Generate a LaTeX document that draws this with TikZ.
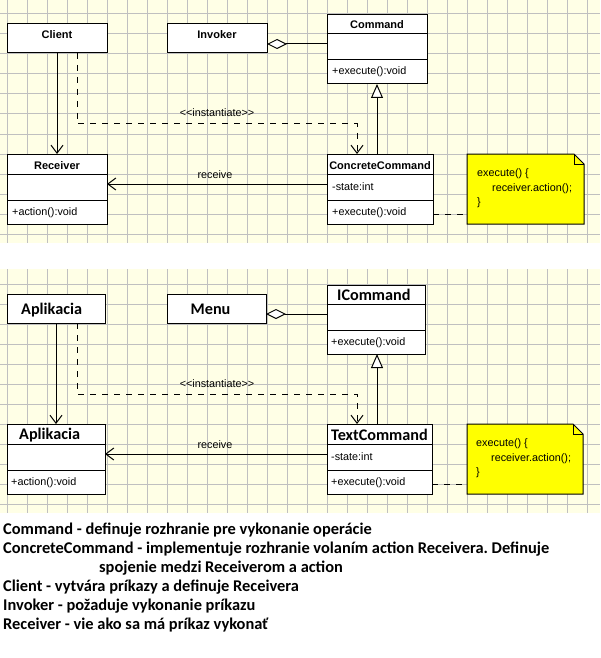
\documentclass[tikz,border=0pt]{standalone}
\usepackage{fontspec}
\setmainfont{Liberation Sans}
\newfontfamily\calfont{Carlito}
\usetikzlibrary{arrows.meta, positioning}
\frenchspacing

\definecolor{paper}{RGB}{255,255,230}
\definecolor{gridgray}{RGB}{192,192,192}
\definecolor{noteyellow}{RGB}{255,255,0}

\tikzset{
  cls/.style={draw=black, fill=white, line width=1pt, inner sep=0pt, outer sep=0pt},
  rule/.style={draw=black, line width=1pt},
  clsname/.style={font=\bfseries\fontsize{11}{13}\selectfont, inner sep=0pt, anchor=base},
  bigname/.style={font=\calfont\bfseries\fontsize{16.2}{18}\selectfont, inner sep=0pt, anchor=base west},
  member/.style={font=\fontsize{10.8}{13}\selectfont, inner sep=0pt, anchor=base west},
  desc/.style={font=\calfont\bfseries\fontsize{16.4}{19}\selectfont, inner sep=0pt, anchor=base west},
  assoc/.style={rule, -{Straight Barb[length=8pt,width=12pt]}},
  dep/.style={assoc, dash pattern=on 6pt off 6pt},
  aggr/.style={rule, {Diamond[length=20pt,width=10pt,fill=white]}-},
  gen/.style={rule, -{Triangle[length=14pt,width=12pt,fill=white]}},
  notelink/.style={rule, dash pattern=on 6pt off 6pt},
  notebox/.style={draw=black, fill=noteyellow, line width=1pt},
  gridline/.style={draw=gridgray, line width=1pt}
}

\begin{document}
\begin{tikzpicture}[x=1pt, y=-1pt]
  \useasboundingbox (0,0) rectangle (600,658);
  \fill[white] (0,0) rectangle (600,658);

  % grid paper
  \fill[paper] (0,0) rectangle (600,243);
  \fill[paper] (0,269) rectangle (600,513);
  \foreach \gx in {7,27,...,587} {
    \draw[gridline] (\gx,0) -- (\gx,243);
    \draw[gridline] (\gx,269) -- (\gx,513);
  }
  \foreach \gy in {14,34,...,234} \draw[gridline] (0,\gy) -- (600,\gy);
  \foreach \gy in {284,304,...,504} \draw[gridline] (0,\gy) -- (600,\gy);

  % --- pattern ---
  \begin{scope}
    \node[cls, minimum width=100pt, minimum height=29pt] (client) at (57,38.5) {};
    \node[clsname] (client-name) at (57,39) {Client};
    \node[cls, minimum width=100pt, minimum height=29pt] (invoker) at (217,38.5) {};
    \node[clsname] (invoker-name) at (217,39) {Invoker};

    \node[cls, minimum width=100pt, minimum height=69pt] (command) at (377,49.5) {};
    \draw[rule] (command.west |- 0,34) -- (command.east |- 0,34);
    \draw[rule] (command.west |- 0,60) -- (command.east |- 0,60);
    \node[clsname] (command-name) at (377,29) {Command};
    \node[member] (command-op) at (332,75) {+execute():void};

    \node[cls, minimum width=100pt, minimum height=70pt] (receiver) at (57,189) {};
    \draw[rule] (receiver.west |- 0,174) -- (receiver.east |- 0,174);
    \draw[rule] (receiver.west |- 0,200) -- (receiver.east |- 0,200);
    \node[clsname] (receiver-name) at (57,169) {Receiver};
    \node[member] (receiver-op) at (12,215) {+action():void};

    \node[cls, minimum width=106pt, minimum height=70pt] (concrete) at (380,189) {};
    \draw[rule] (concrete.west |- 0,174) -- (concrete.east |- 0,174);
    \draw[rule] (concrete.west |- 0,200) -- (concrete.east |- 0,200);
    \node[clsname] (concrete-name) at (380,169) {ConcreteCommand};
    \node[member] (concrete-attr) at (332,190) {-state:int};
    \node[member] (concrete-op) at (332,215) {+execute():void};

    \node[minimum width=117pt, minimum height=70pt, inner sep=0pt, outer sep=0pt] (note) at (525.5,189) {};
    \filldraw[notebox] (note.north west) -- ([xshift=-10pt]note.north east) -- ([yshift=-10pt]note.north east)
      -- (note.south east) -- (note.south west) -- cycle;
    \draw[rule] ([xshift=-10pt]note.north east) -- ([xshift=-10pt,yshift=-10pt]note.north east) -- ([yshift=-10pt]note.north east);
    \node[member] (note-l1) at (477,176) {execute() \{};
    \node[member] (note-l2) at (492,191) {receiver.action();};
    \node[member] (note-l3) at (477,205) {\}};

    \draw[aggr] (invoker.east |- 0,44) -- (command.west |- 0,44);
    \draw[assoc] (client) -- (receiver);
    \coordinate (inst) at (357,124);
    \draw[dep] ([xshift=20pt]client.south) |- (inst) -- (inst |- concrete.north);
    \node[member, anchor=base] (inst-label) at (217,117) {<\kern0pt<instantiate>\kern0pt>};
    \draw[gen] (concrete.north -| 377,0) -- (command.south -| 377,0);
    \draw[assoc] (concrete.west |- 0,184) -- (receiver.east |- 0,184);
    \node[member, anchor=base] (receive-label) at (215,178) {receive};
    \draw[notelink] (concrete.east |- 0,214) -- (note.west |- 0,214);
  \end{scope}

  % --- example ---
  \begin{scope}[yshift=-270pt]
    \node[cls, minimum width=98pt, minimum height=29pt] (app-client) at (56,38.5) {};
    \node[bigname] (app-client-name) at (21,44) {Aplikacia};
    \node[cls, minimum width=99pt, minimum height=29pt] (menu) at (216.5,38.5) {};
    \node[bigname] (menu-name) at (190.5,44) {Menu};

    \node[cls, minimum width=98pt, minimum height=69pt] (icommand) at (376,49.5) {};
    \draw[rule] (icommand.west |- 0,34) -- (icommand.east |- 0,34);
    \draw[rule] (icommand.west |- 0,60) -- (icommand.east |- 0,60);
    \node[bigname] (icommand-name) at (337,30.7) {ICommand};
    \node[member] (icommand-op) at (331,75) {+execute():void};

    \node[cls, minimum width=98pt, minimum height=70pt] (app-receiver) at (56,189) {};
    \draw[rule] (app-receiver.west |- 0,174) -- (app-receiver.east |- 0,174);
    \draw[rule] (app-receiver.west |- 0,200) -- (app-receiver.east |- 0,200);
    \node[bigname] (app-receiver-name) at (19,169) {Aplikacia};
    \node[member] (app-receiver-op) at (11,215.5) {+action():void};

    \node[cls, minimum width=105pt, minimum height=70pt] (textcmd) at (379.5,189) {};
    \draw[rule] (textcmd.west |- 0,174) -- (textcmd.east |- 0,174);
    \draw[rule] (textcmd.west |- 0,200) -- (textcmd.east |- 0,200);
    \node[bigname] (textcmd-name) at (331,170.7) {TextCommand};
    \node[member] (textcmd-attr) at (331,190) {-state:int};
    \node[member] (textcmd-op) at (331,215) {+execute():void};

    \node[minimum width=116pt, minimum height=70pt, inner sep=0pt, outer sep=0pt] (note-b) at (525,189) {};
    \filldraw[notebox] (note-b.north west) -- ([xshift=-10pt]note-b.north east) -- ([yshift=-10pt]note-b.north east)
      -- (note-b.south east) -- (note-b.south west) -- cycle;
    \draw[rule] ([xshift=-10pt]note-b.north east) -- ([xshift=-10pt,yshift=-10pt]note-b.north east) -- ([yshift=-10pt]note-b.north east);
    \node[member] (note-b-l1) at (476,176) {execute() \{};
    \node[member] (note-b-l2) at (491,191) {receiver.action();};
    \node[member] (note-b-l3) at (476,205) {\}};

    \draw[aggr] (menu.east |- 0,44) -- (icommand.west |- 0,44);
    \draw[assoc] (app-client) -- (app-receiver);
    \coordinate (inst-b) at (357,124);
    \draw[dep] ([xshift=21pt]app-client.south) |- (inst-b) -- (inst-b |- textcmd.north);
    \node[member, anchor=base] (inst-b-label) at (217,117) {<\kern0pt<instantiate>\kern0pt>};
    \draw[gen] (textcmd.north -| 377,0) -- (icommand.south -| 377,0);
    \draw[assoc] (textcmd.west |- 0,184) -- (app-receiver.east |- 0,184);
    \node[member, anchor=base] (receive-b-label) at (215,178) {receive};
    \draw[notelink] (textcmd.east |- 0,214) -- (note-b.west |- 0,214);
  \end{scope}

  % roles
  \node[desc] (desc-command) at (3,534) {Command - definuje rozhranie pre vykonanie operácie};
  \node[desc] (desc-concrete) at (3,553.3) {ConcreteCommand - implementuje rozhranie volaním action Receivera. Definuje};
  \node[desc] (desc-concrete2) at (99,572.3) {spojenie medzi Receiverom a action};
  \node[desc] (desc-client) at (3,591.3) {Client - vytvára príkazy a definuje Receivera};
  \node[desc] (desc-invoker) at (3,610.7) {Invoker - požaduje vykonanie príkazu};
  \node[desc] (desc-receiver) at (3,629.7) {Receiver - vie ako sa má príkaz vykonať};
\end{tikzpicture}
\end{document}
